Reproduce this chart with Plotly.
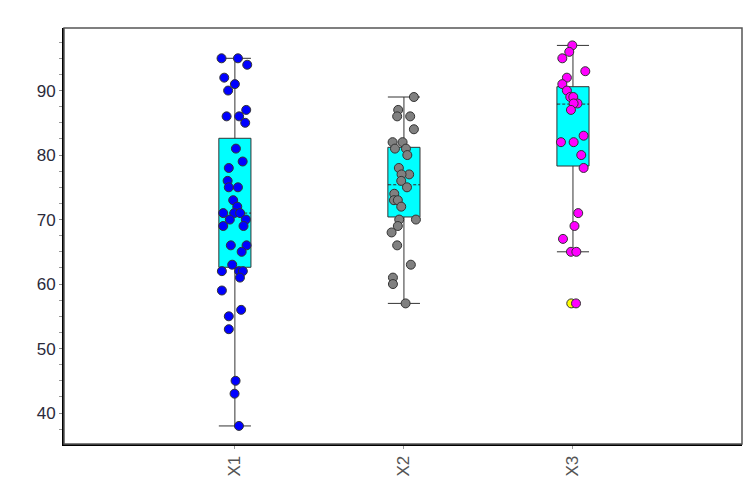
import plotly.graph_objects as go

categories = ["X1", "X2", "X3"]
positions = [1, 2, 3]

# box statistics
q1 = [62.6, 70.4, 78.3]
median = [71.0, 75.4, 87.9]
q3 = [82.6, 81.2, 90.6]
lower_whisker = [38.0, 57.0, 65.0]
upper_whisker = [95.0, 89.0, 97.0]

# individual observations (values) and their horizontal jitter (category units)
x1_values = [95, 95, 94, 92, 91, 90, 86, 86, 87, 85, 81, 79, 78, 76, 75, 75, 73, 72, 71, 71,
             71, 70, 70, 69, 69, 66, 66, 65, 63, 62, 62, 62, 61, 59, 56, 55, 53, 45, 43, 38]
x1_jitter = [-0.079, 0.018, 0.073, -0.063, 0.0, -0.040, -0.049, 0.025, 0.067, 0.061, 0.006,
             0.046, -0.036, -0.043, -0.036, 0.018, -0.010, 0.014, -0.069, -0.004, 0.031, 0.065,
             -0.030, -0.069, 0.051, 0.069, -0.024, 0.040, -0.016, -0.077, 0.025, 0.047, 0.030,
             -0.077, 0.037, -0.036, -0.036, 0.004, -0.002, 0.024]

x2_values = [89, 87, 86, 86, 84, 82, 82, 81, 81, 80, 78, 77, 77, 76, 75, 74, 73, 73, 72, 70,
             70, 69, 68, 66, 63, 61, 60, 57]
x2_jitter = [0.059, -0.034, -0.040, 0.037, 0.059, -0.067, -0.008, -0.053, 0.012, 0.020, -0.030,
             0.031, -0.014, -0.016, 0.018, -0.057, -0.059, -0.036, -0.016, -0.028, 0.071, -0.036,
             -0.073, -0.040, 0.041, -0.065, -0.065, 0.010]

x3_values = [97, 96, 95, 93, 92, 91, 90, 89, 89, 88, 88, 87, 82, 82, 83, 80, 78, 71, 69, 67,
             65, 65, 57]
x3_jitter = [-0.004, -0.022, -0.063, 0.073, -0.036, -0.063, -0.036, -0.016, 0.002, 0.027, 0.004,
             -0.012, -0.071, 0.004, 0.063, 0.049, 0.063, 0.031, 0.009, -0.059, -0.012, 0.020, 0.018]

outlier_category = [3]
outlier_values = [57]
outlier_jitter = [-0.01]

point_colors = ["#0000FF", "#808080", "#FF00FF"]
box_fill = "#00FFFF"
box_width = 0.19

fig = go.Figure()

for i, p in enumerate(positions):
    fig.add_trace(go.Box(
        x=[p], q1=[q1[i]], median=[median[i]], q3=[q3[i]],
        lowerfence=[lower_whisker[i]], upperfence=[upper_whisker[i]],
        width=box_width, whiskerwidth=1, fillcolor=box_fill,
        line=dict(color="#333333", width=1), boxpoints=False,
        showlegend=False, hoverinfo="skip",
    ))

# dashed median lines (cover solid median then draw dashed)
half = box_width / 2 - 0.006
for i, p in enumerate(positions):
    fig.add_trace(go.Scatter(x=[p - half, p + half], y=[median[i], median[i]], mode="lines",
                             line=dict(color=box_fill, width=2), showlegend=False, hoverinfo="skip"))
    fig.add_trace(go.Scatter(x=[p - half - 0.004, p + half + 0.004], y=[median[i], median[i]],
                             mode="lines", line=dict(color="#333333", width=1, dash="3px,2px"),
                             showlegend=False, hoverinfo="skip"))

# outlier marker
fig.add_trace(go.Scatter(
    x=[c + j for c, j in zip(outlier_category, outlier_jitter)], y=outlier_values, mode="markers",
    marker=dict(size=9, color="#FFFF00", line=dict(color="#333333", width=1)),
    showlegend=False, hoverinfo="skip"))

for p, vals, jit, col in zip(positions, [x1_values, x2_values, x3_values],
                              [x1_jitter, x2_jitter, x3_jitter], point_colors):
    fig.add_trace(go.Scatter(
        x=[p + j for j in jit], y=vals, mode="markers",
        marker=dict(size=9, color=col, line=dict(color="#333333", width=1)),
        showlegend=False))

fig.update_layout(
    width=743, height=482,
    margin=dict(l=56, r=9, t=20, b=46),
    paper_bgcolor="white", plot_bgcolor="white",
    font=dict(family="Liberation Sans, Arial, sans-serif"),
    shapes=[dict(type="rect", xref="paper", yref="paper", x0=0, x1=1, y0=0, y1=1,
                 line=dict(color="#555555", width=1.5), layer="above")],
)
fig.update_xaxes(
    range=[-0.011, 4.0], tickvals=positions, ticktext=categories, tickangle=-90,
    showgrid=False, zeroline=False, showline=True, linecolor="black", linewidth=2,
    ticks="outside", ticklen=3, tickcolor="#999999",
    tickfont=dict(size=17, color="#555555"),
)
fig.update_yaxes(
    range=[35.2, 99.7], tickvals=[40, 50, 60, 70, 80, 90],
    showgrid=False, zeroline=False, showline=True, linecolor="black", linewidth=2,
    ticks="outside", ticklen=3, tickcolor="#888888",
    minor=dict(dtick=2.5, tick0=0, ticks="outside", ticklen=3, tickcolor="#999999", showgrid=False),
    tickfont=dict(size=17, color="#2a2a3a"),
)

fig.write_html("out.html")
